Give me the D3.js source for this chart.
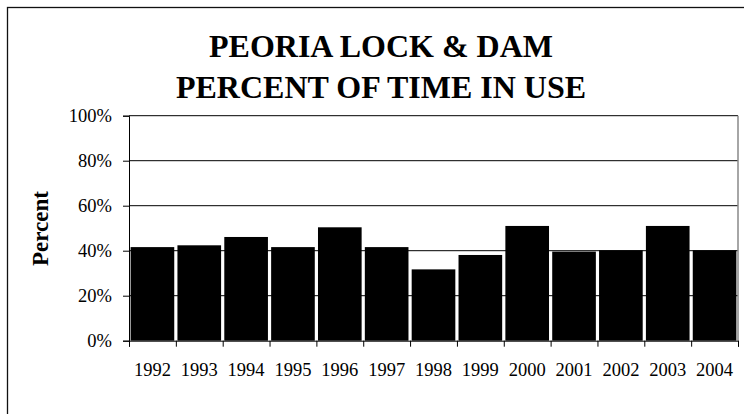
<!DOCTYPE html>
<html>
<head>
<meta charset="utf-8">
<script src="https://cdn.jsdelivr.net/npm/d3@7"></script>
<style>
  html, body { margin: 0; padding: 0; background: #fff; }
  svg { display: block; }
</style>
</head>
<body>
<svg id="chart" width="744" height="414"></svg>
<script>
// Share of time the Peoria lock was in use, by year
const years = ["1992", "1993", "1994", "1995", "1996", "1997", "1998",
               "1999", "2000", "2001", "2002", "2003", "2004"];
const percentInUse = [41.6, 42.4, 46.1, 41.6, 50.4, 41.6, 31.7,
                      38.1, 51.0, 39.6, 40.2, 51.0, 40.2];
const yTicks = [0, 20, 40, 60, 80, 100];
const titleLines = ["PEORIA LOCK & DAM", "PERCENT OF TIME IN USE"];
const yAxisTitle = "Percent";

const SERIF = "'Liberation Serif', 'Times New Roman', Times, 'DejaVu Serif', 'Noto Serif', serif";

const svg = d3.select("#chart");
const plot = { left: 129, right: 738, top: 115.7, bottom: 340.7 };

// outer chart frame (runs off the right and bottom edges)
svg.append("rect")
  .attr("x", 7.5).attr("y", 7.5)
  .attr("width", 760).attr("height", 430)
  .attr("fill", "none").attr("stroke", "#111").attr("stroke-width", 1.3);

const x = d3.scaleBand().domain(years).range([plot.left, plot.right]).padding(0);
const y = d3.scaleLinear().domain([0, 100]).range([plot.bottom, plot.top]);

// title
svg.append("g").selectAll("text").data(titleLines).join("text")
  .attr("x", 381)
  .attr("y", (d, i) => 57 + i * 41)
  .attr("text-anchor", "middle")
  .style("font-family", SERIF)
  .style("font-size", "32px")
  .style("font-weight", "bold")
  .text(d => d);

// gridlines
svg.append("g").selectAll("line").data(yTicks.filter(t => t > 0)).join("line")
  .attr("x1", plot.left).attr("x2", plot.right)
  .attr("y1", d => y(d)).attr("y2", d => y(d))
  .attr("stroke", "#000").attr("stroke-width", 1);

// plot area right border
svg.append("line")
  .attr("x1", plot.right).attr("x2", plot.right)
  .attr("y1", plot.top).attr("y2", plot.bottom)
  .attr("stroke", "#888").attr("stroke-width", 1.5);

// bars
const inset = 1.6;
svg.append("g").selectAll("rect").data(years).join("rect")
  .attr("x", d => x(d) + inset)
  .attr("width", x.bandwidth() - 2 * inset)
  .attr("y", (d, i) => y(percentInUse[i]))
  .attr("height", (d, i) => y(0) - y(percentInUse[i]))
  .attr("fill", "#000");

// y axis
const yAxis = d3.axisLeft(y)
  .tickValues(yTicks)
  .tickSize(6)
  .tickPadding(11)
  .tickFormat(d => d + "%");
const yg = svg.append("g").attr("transform", `translate(${plot.left},0)`).call(yAxis);
yg.select(".domain").attr("stroke", "#000");
yg.selectAll(".tick line").attr("stroke", "#000");
yg.selectAll(".tick text")
  .style("font-family", SERIF)
  .style("font-size", "18.5px")
  .attr("fill", "#000");

// x axis: ticks at category boundaries, labels at band centers
const edges = d3.range(years.length + 1);
const xEdge = d3.scaleLinear().domain([0, years.length]).range([plot.left, plot.right]);
const xg = svg.append("g").attr("transform", `translate(0,${plot.bottom})`)
  .call(d3.axisBottom(xEdge).tickValues(edges).tickSize(6).tickFormat(""));
xg.select(".domain").attr("stroke", "#000");
xg.selectAll(".tick line").attr("stroke", "#000");

svg.append("g").selectAll("text").data(years).join("text")
  .attr("x", d => x(d) + x.bandwidth() / 2)
  .attr("y", 376)
  .attr("text-anchor", "middle")
  .style("font-family", SERIF)
  .style("font-size", "18.5px")
  .text(d => d);

// y axis title
svg.append("text")
  .attr("transform", "translate(48,228.5) rotate(-90)")
  .attr("text-anchor", "middle")
  .style("font-family", SERIF)
  .style("font-size", "23px")
  .style("font-weight", "bold")
  .text(yAxisTitle);
</script>
</body>
</html>
